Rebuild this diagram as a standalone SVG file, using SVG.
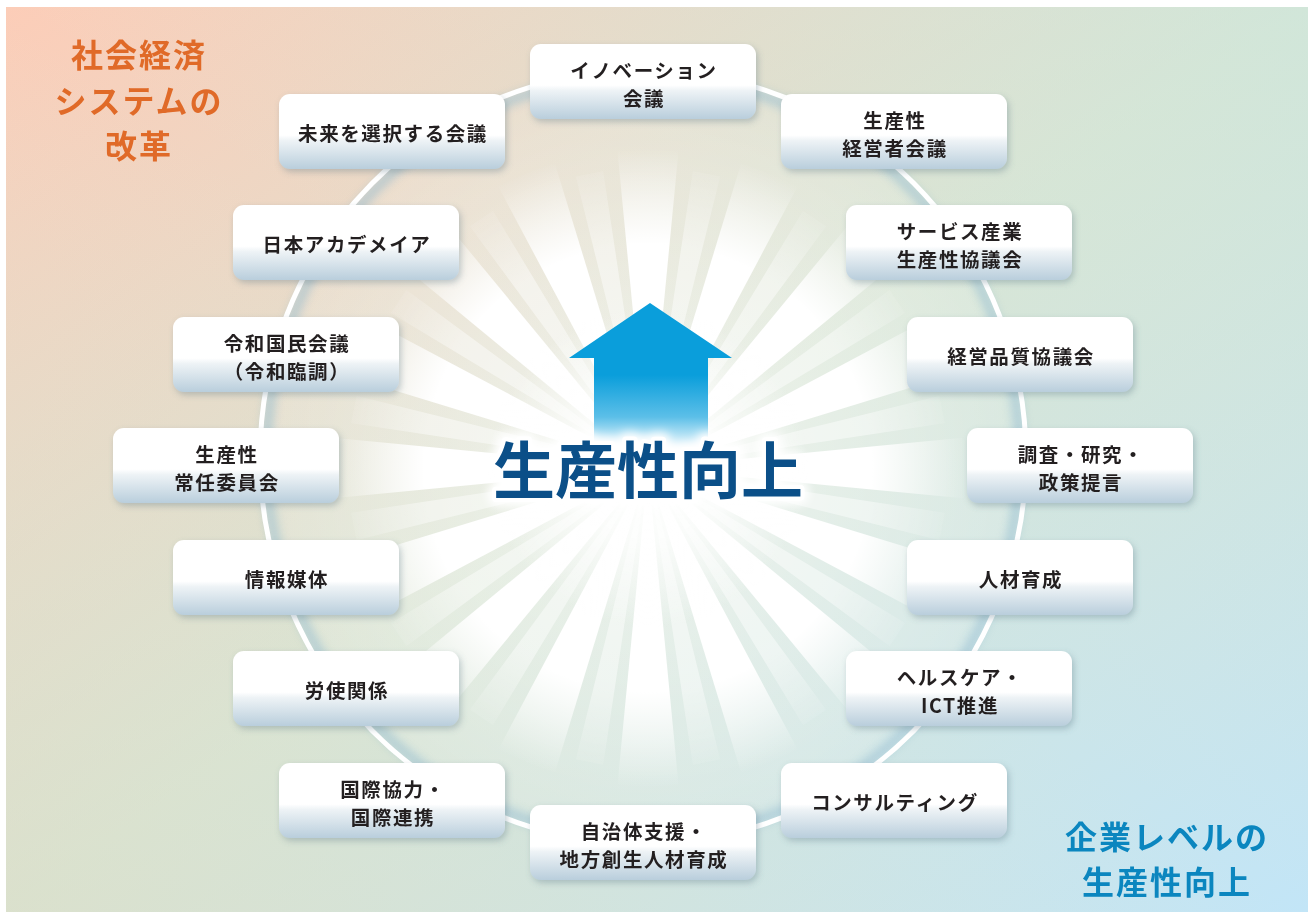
<svg xmlns="http://www.w3.org/2000/svg" xmlns:xlink="http://www.w3.org/1999/xlink" width="1308" height="919" viewBox="0 0 1308 919">
<defs>
<linearGradient id="bg" x1="0" y1="0" x2="1" y2="1">
<stop offset="0" stop-color="#fccdb8"/>
<stop offset="0.5" stop-color="#d9e5d5"/>
<stop offset="1" stop-color="#c2e5f7"/>
</linearGradient>
<linearGradient id="bg2" x1="0" y1="1" x2="1" y2="0">
<stop offset="0" stop-color="#dcdcc4" stop-opacity="0.5"/>
<stop offset="0.5" stop-color="#d9e5d5" stop-opacity="0"/>
<stop offset="1" stop-color="#c9e7dd" stop-opacity="0.5"/>
</linearGradient>
<radialGradient id="inner" cx="648" cy="468" r="400" gradientUnits="userSpaceOnUse">
<stop offset="0" stop-color="#ffffff" stop-opacity="0.6"/>
<stop offset="0.5" stop-color="#ffffff" stop-opacity="0.35"/>
<stop offset="1" stop-color="#ffffff" stop-opacity="0.1"/>
</radialGradient>
<radialGradient id="rayg" cx="648" cy="468" r="320" gradientUnits="userSpaceOnUse">
<stop offset="0" stop-color="#ffffff" stop-opacity="1"/>
<stop offset="0.7" stop-color="#ffffff" stop-opacity="1"/>
<stop offset="1" stop-color="#ffffff" stop-opacity="0"/>
</radialGradient>
<radialGradient id="glow" cx="648" cy="468" r="160" gradientUnits="userSpaceOnUse">
<stop offset="0" stop-color="#ffffff" stop-opacity="1"/>
<stop offset="0.45" stop-color="#ffffff" stop-opacity="0.75"/>
<stop offset="1" stop-color="#ffffff" stop-opacity="0"/>
</radialGradient>
<linearGradient id="box" x1="0" y1="0" x2="0" y2="1">
<stop offset="0" stop-color="#ffffff"/>
<stop offset="0.55" stop-color="#ffffff"/>
<stop offset="0.62" stop-color="#eef3f6"/>
<stop offset="1" stop-color="#b9cedc"/>
</linearGradient>
<linearGradient id="shaft" x1="0" y1="300" x2="0" y2="450" gradientUnits="userSpaceOnUse">
<stop offset="0" stop-color="#0a9edb"/>
<stop offset="0.5" stop-color="#0a9edb"/>
<stop offset="0.78" stop-color="#5cbfe8"/>
<stop offset="1" stop-color="#ffffff"/>
</linearGradient>
<filter id="sh" x="-10%" y="-20%" width="125%" height="150%">
<feDropShadow dx="2" dy="3" stdDeviation="3" flood-color="#5b7686" flood-opacity="0.35"/>
</filter>
<filter id="blur5" x="-20%" y="-20%" width="140%" height="140%">
<feGaussianBlur stdDeviation="5"/>
</filter>
<polygon id="ray" points="648,468 615.4,129.6 680.6,129.6"/>
<polygon id="ray2" points="648,468 634,168 662,168"/>
<style>
.bx{fill:url(#box);filter:url(#sh);}
.t{font-family:"Noto Sans CJK JP","Noto Sans",sans-serif;font-size:19.5px;font-weight:700;fill:#231f20;text-anchor:middle;letter-spacing:1.6px;}
.corner{font-family:"Noto Sans CJK JP","Noto Sans",sans-serif;font-size:32px;font-weight:700;text-anchor:middle;letter-spacing:2px;}
.big{font-family:"Noto Sans CJK JP",sans-serif;font-size:62px;font-weight:700;text-anchor:middle;}
</style>
</defs>

<rect x="0" y="0" width="1308" height="919" fill="#ffffff"/>
<rect x="6" y="7" width="1302" height="905" fill="url(#bg)"/>
<rect x="6" y="7" width="1302" height="905" fill="url(#bg2)"/>

<g id="background-burst">
<ellipse cx="643" cy="457" rx="383" ry="387" fill="url(#inner)"/>
<g fill="url(#rayg)">
<use xlink:href="#ray" transform="rotate(0 648 468)"/>
<use xlink:href="#ray" transform="rotate(22.5 648 468)"/>
<use xlink:href="#ray" transform="rotate(45 648 468)"/>
<use xlink:href="#ray" transform="rotate(67.5 648 468)"/>
<use xlink:href="#ray" transform="rotate(90 648 468)"/>
<use xlink:href="#ray" transform="rotate(112.5 648 468)"/>
<use xlink:href="#ray" transform="rotate(135 648 468)"/>
<use xlink:href="#ray" transform="rotate(157.5 648 468)"/>
<use xlink:href="#ray" transform="rotate(180 648 468)"/>
<use xlink:href="#ray" transform="rotate(202.5 648 468)"/>
<use xlink:href="#ray" transform="rotate(225 648 468)"/>
<use xlink:href="#ray" transform="rotate(247.5 648 468)"/>
<use xlink:href="#ray" transform="rotate(270 648 468)"/>
<use xlink:href="#ray" transform="rotate(292.5 648 468)"/>
<use xlink:href="#ray" transform="rotate(315 648 468)"/>
<use xlink:href="#ray" transform="rotate(337.5 648 468)"/>
</g>
<g fill="url(#rayg)" opacity="0.45">
<use xlink:href="#ray2" transform="rotate(11.25 648 468)"/>
<use xlink:href="#ray2" transform="rotate(33.75 648 468)"/>
<use xlink:href="#ray2" transform="rotate(56.25 648 468)"/>
<use xlink:href="#ray2" transform="rotate(78.75 648 468)"/>
<use xlink:href="#ray2" transform="rotate(101.25 648 468)"/>
<use xlink:href="#ray2" transform="rotate(123.75 648 468)"/>
<use xlink:href="#ray2" transform="rotate(146.25 648 468)"/>
<use xlink:href="#ray2" transform="rotate(168.75 648 468)"/>
<use xlink:href="#ray2" transform="rotate(191.25 648 468)"/>
<use xlink:href="#ray2" transform="rotate(213.75 648 468)"/>
<use xlink:href="#ray2" transform="rotate(236.25 648 468)"/>
<use xlink:href="#ray2" transform="rotate(258.75 648 468)"/>
<use xlink:href="#ray2" transform="rotate(281.25 648 468)"/>
<use xlink:href="#ray2" transform="rotate(303.75 648 468)"/>
<use xlink:href="#ray2" transform="rotate(326.25 648 468)"/>
<use xlink:href="#ray2" transform="rotate(348.75 648 468)"/>
</g>
<circle cx="648" cy="468" r="160" fill="url(#glow)"/>
</g>

<g id="connectors">
<ellipse cx="643" cy="457" rx="377" ry="381" fill="none" stroke="#8fb9cf" stroke-width="10" opacity="0.55" filter="url(#blur5)"/>
<ellipse cx="643" cy="457" rx="383" ry="387" fill="none" stroke="#ffffff" stroke-width="5"/>
</g>

<g id="center">
<polygon points="650,303 732,358 708,358 708,452 594,452 594,358 569,358" fill="url(#shaft)"/>
<text class="big" x="648" y="494" fill="none" stroke="#ffffff" stroke-width="16" stroke-linejoin="round" filter="url(#blur5)">生産性向上</text>
<text class="big" x="648" y="494" fill="none" stroke="#ffffff" stroke-width="8" stroke-linejoin="round">生産性向上</text>
<text class="big" x="648" y="494" fill="#0b4f88">生産性向上</text>
</g>

<g id="label-reform">
<text class="corner" fill="#e06a28"><tspan x="139" y="67">社会経済</tspan><tspan x="139" y="113">システムの</tspan><tspan x="139" y="158">改革</tspan></text>
</g>
<g id="label-enterprise">
<text class="corner" fill="#0b86bf"><tspan x="1167" y="849">企業レベルの</tspan><tspan x="1167" y="894">生産性向上</tspan></text>
</g>

<g id="n1"><rect class="bx" x="530" y="44" width="226" height="75" rx="11"/><text class="t"><tspan x="644" y="77.5">イノベーション</tspan><tspan x="644" y="105.5">会議</tspan></text></g>
<g id="n2"><rect class="bx" x="781" y="94" width="226" height="75" rx="11"/><text class="t"><tspan x="895" y="127.5">生産性</tspan><tspan x="895" y="155.5">経営者会議</tspan></text></g>
<g id="n3"><rect class="bx" x="846" y="205" width="226" height="75" rx="11"/><text class="t"><tspan x="960" y="238.5">サービス産業</tspan><tspan x="960" y="266.5">生産性協議会</tspan></text></g>
<g id="n4"><rect class="bx" x="907" y="317" width="226" height="75" rx="11"/><text class="t" x="1021" y="363.5">経営品質協議会</text></g>
<g id="n5"><rect class="bx" x="967" y="428" width="226" height="75" rx="11"/><text class="t"><tspan x="1081" y="461.5">調査・研究・</tspan><tspan x="1081" y="489.5">政策提言</tspan></text></g>
<g id="n6"><rect class="bx" x="907" y="540" width="226" height="75" rx="11"/><text class="t" x="1021" y="586.5">人材育成</text></g>
<g id="n7"><rect class="bx" x="846" y="651" width="226" height="75" rx="11"/><text class="t"><tspan x="960" y="684.5">ヘルスケア・</tspan><tspan x="960" y="712.5">ICT推進</tspan></text></g>
<g id="n8"><rect class="bx" x="781" y="763" width="226" height="75" rx="11"/><text class="t" x="895" y="809.5">コンサルティング</text></g>
<g id="n9"><rect class="bx" x="530" y="805" width="226" height="75" rx="11"/><text class="t"><tspan x="644" y="838.5">自治体支援・</tspan><tspan x="644" y="866.5">地方創生人材育成</tspan></text></g>
<g id="n10"><rect class="bx" x="279" y="763" width="226" height="75" rx="11"/><text class="t"><tspan x="393" y="796.5">国際協力・</tspan><tspan x="393" y="824.5">国際連携</tspan></text></g>
<g id="n11"><rect class="bx" x="233" y="651" width="226" height="75" rx="11"/><text class="t" x="347" y="697.5">労使関係</text></g>
<g id="n12"><rect class="bx" x="173" y="540" width="226" height="75" rx="11"/><text class="t" x="287" y="586.5">情報媒体</text></g>
<g id="n13"><rect class="bx" x="113" y="428" width="226" height="75" rx="11"/><text class="t"><tspan x="227" y="461.5">生産性</tspan><tspan x="227" y="489.5">常任委員会</tspan></text></g>
<g id="n14"><rect class="bx" x="173" y="317" width="226" height="75" rx="11"/><text class="t"><tspan x="287" y="350.5">令和国民会議</tspan><tspan x="287" y="378.5">（令和臨調）</tspan></text></g>
<g id="n15"><rect class="bx" x="233" y="205" width="226" height="75" rx="11"/><text class="t" x="347" y="251.5">日本アカデメイア</text></g>
<g id="n16"><rect class="bx" x="279" y="94" width="226" height="75" rx="11"/><text class="t" x="393" y="140.5">未来を選択する会議</text></g>
</svg>
